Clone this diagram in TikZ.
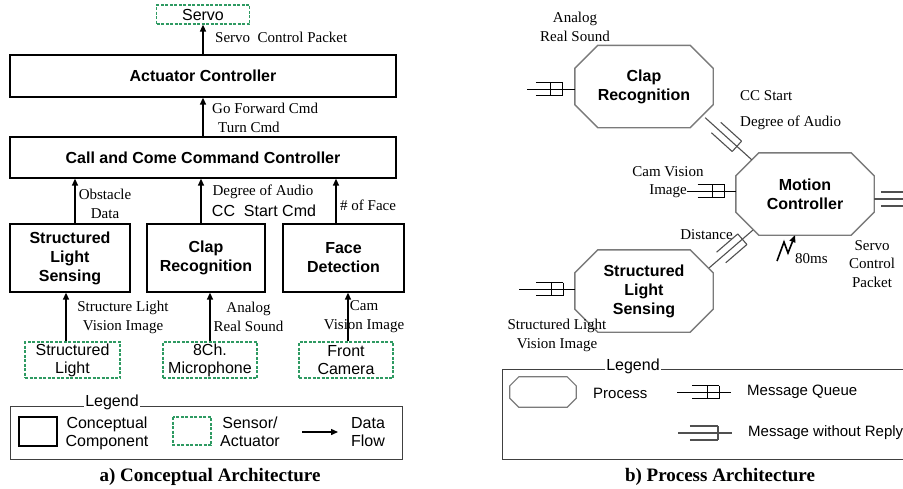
\documentclass[tikz,border=0pt]{standalone}
\usepackage{fontspec}
\setmainfont{Liberation Serif}
\setsansfont{Liberation Sans}
\usetikzlibrary{arrows.meta,calc}
\definecolor{sensor}{HTML}{2E9A62}
\definecolor{procline}{HTML}{7A7A7A}
\definecolor{msgline}{HTML}{505050}
\tikzset{
  comp/.style={draw, line width=1.3pt, font=\sffamily\bfseries\fontsize{16}{19}\selectfont, align=center, inner sep=0pt},
  sens/.style={draw=sensor, dash pattern=on 3pt off 1.5pt, line width=1.2pt, font=\sffamily\fontsize{16}{18}\selectfont, align=center, inner sep=0pt},
  flow/.style={-{Triangle[length=7pt,width=6pt]}, line width=1.4pt},
  labs/.style={font=\fontsize{15}{19}\selectfont, align=center, inner sep=0pt},
  labsf/.style={font=\sffamily\fontsize{16}{18}\selectfont, align=center, inner sep=0pt},
  procbox/.style={minimum width=138pt, minimum height=82pt, font=\sffamily\bfseries\fontsize{16}{19}\selectfont, align=center, inner sep=0pt},
  proc/.style={draw=procline, line width=1.4pt},
  msg/.style={draw=black, line width=0.9pt},
  mwrl/.style={draw=msgline, line width=1.1pt},
  mq/.pic={\draw[msg] (-27,-6.5) -- (0,-6.5) (-27,6.5) -- (0,6.5) (-12,-6.5) -- (-12,6.5) (0,-6.5) -- (0,6.5);},
  mwr/.pic={\draw[mwrl] (-28,-7) -- (0,-7) (-28,7) -- (0,7) (0,-7) -- (0,7);},
  legbox/.style={draw=black!75, line width=1pt},
  legtitle/.style={fill=white, font=\sffamily\fontsize{16}{18}\selectfont, inner sep=1pt},
  caption/.style={font=\bfseries\fontsize{19}{22}\selectfont}
}

\begin{document}
\begin{tikzpicture}[x=1pt,y=-1pt]
  \useasboundingbox (0,0) rectangle (903,488);
  \clip (0,0) rectangle (903,488);

  % a) conceptual architecture
  \node[sens, minimum width=93pt, minimum height=19pt] (servo) at (203,14.5) {Servo};
  \node[comp, minimum width=386pt, minimum height=42pt] (act) at (203,76) {Actuator Controller};
  \node[comp, minimum width=386pt, minimum height=41pt] (call) at (203,157.5) {Call and Come Command Controller};
  \node[comp, minimum width=120pt, minimum height=68pt] (sls) at (70,258) {Structured\\Light\\Sensing};
  \node[comp, minimum width=118pt, minimum height=68pt] (clapc) at (206,258) {Clap\\Recognition};
  \node[comp, minimum width=121pt, minimum height=68pt] (face) at (343.5,258) {Face\\Detection};
  \node[sens, minimum width=95pt, minimum height=36pt] (slight) at (72.5,360) {Structured\\Light};
  \node[sens, minimum width=94pt, minimum height=36pt] (mic) at (210,360) {8Ch.\\Microphone};
  \node[sens, minimum width=94pt, minimum height=36pt] (cam) at (346,360) {Front\\Camera};

  \draw[flow] (act.north) -- (servo.south);
  \draw[flow] (call.north) -- (act.south);
  \draw[flow] ($(sls.north)+(5,0)$) coordinate (s1) -- (s1 |- call.south);
  \draw[flow] ($(clapc.north)+(-5,0)$) coordinate (s2) -- (s2 |- call.south);
  \draw[flow] ($(face.north)+(-7.5,0)$) coordinate (s3) -- (s3 |- call.south);
  \draw[flow] ($(slight.north)+(-6.5,0)$) coordinate (s4) -- (s4 |- sls.south);
  \draw[flow] (mic.north) -- (mic.north |- clapc.south);
  \draw[flow] ($(cam.north)+(2,0)$) coordinate (s5) -- (s5 |- face.south);

  \node[labs, anchor=west] (lpkt) at (215,37) {Servo~ Control Packet};
  \node[labs, anchor=west] (lfwd) at (212,108) {Go Forward Cmd};
  \node[labs, anchor=west] (lturn) at (218,127) {Turn Cmd};
  \node[labs] (lobs) at (105,204) {Obstacle\\Data};
  \node[labs] (laud) at (263,192) {Degree of Audio};
  \node[labsf] (lccs) at (264,210.5) {CC~ Start Cmd};
  \node[labs, anchor=west] (lface) at (340,205) {\# of Face};
  \node[labs] (lslv) at (123,317) {Structure Light\\Vision Image};
  \node[labs] (lana) at (248.5,317) {Analog\\Real Sound};
  \node[labs] (lcam) at (364,317) {Cam\\Vision Image};

  % legend a
  \draw[legbox] (10,406) rectangle (402,459);
  \node[legtitle] (lega) at (112,402) {Legend};
  \draw[line width=1.6pt] (19,417) rectangle (57,446);
  \node[labsf] (lcc) at (107,433) {Conceptual\\Component};
  \draw[draw=sensor, dash pattern=on 3pt off 1.5pt, line width=1.2pt] (173,417) rectangle (211,445);
  \node[labsf] (lsa) at (250,432) {Sensor/\\Actuator};
  \draw[flow] (302,432) -- (338,432);
  \node[labsf] (ldf) at (368,432) {Data\\Flow};
  \node[caption] (capa) at (210,477) {a) Conceptual Architecture};

  % b) process architecture
  \node[procbox] (clapp) at (644,86.5) {Clap\\Recognition};
  \node[procbox] (motion) at (805,194) {Motion\\Controller};
  \node[procbox] (slsp) at (644,291) {Structured\\Light\\Sensing};
  \foreach \p in {clapp,motion,slsp}
    \draw[proc] ([xshift=23pt]\p.north west) -- ([xshift=-23pt]\p.north east)
      -- ([yshift=-23pt]\p.north east) -- ([yshift=23pt]\p.south east)
      -- ([xshift=-23pt]\p.south east) -- ([xshift=23pt]\p.south west)
      -- ([yshift=23pt]\p.south west) -- ([yshift=-23pt]\p.north west) -- cycle;

  \node[labs] (rana) at (575,27) {Analog\\Real Sound};
  \node[labs, anchor=west] (rcc) at (740,96) {CC Start};
  \node[labs, anchor=west] (rdeg) at (740,123) {Degree of Audio};
  \node[labs] (rcamv) at (668,172) {Cam Vision};
  \node[labs] (rcami) at (668,191) {Image};
  \node[labs, anchor=east] (rdist) at (733,235) {Distance};
  \node[labs, anchor=west] (rms) at (795,259) {80ms};
  \node[labs, font=\fontsize{15}{18.5}\selectfont] (rservo) at (872,264) {Servo\\Control\\Packet};
  \node[labs] (rslv) at (557,335) {Structured Light\\Vision Image};

  \coordinate (clapq) at (527,89);
  \coordinate (slsq) at (519,289);
  \coordinate (servoout) at (903,199);
  \coordinate (tick) at (777,261);
  \draw[msg] (clapq) -- (clapq -| clapp.west) pic[pos=0.75]{mq};
  \draw[msg] (slsq) -- (slsq -| slsp.west) pic[pos=0.79]{mq};
  \draw[msg] (rcami.east) -- (rcami.east -| motion.west) pic[pos=0.77]{mq};
  \draw[mwrl] ($(clapp.south east)+(-8,-10)$) -- ($(motion.north west)+(16,7)$) pic[pos=0.68,sloped]{mwr};
  \draw[mwrl] ($(slsp.north east)+(-4,18)$) -- ($(motion.south west)+(17,-5)$) pic[pos=0.76,sloped]{mwr};
  \draw[mwrl] ($(motion.east)+(0,5)$) -- (servoout) pic[pos=1.2]{mwr};
  \draw[flow, line width=1.6pt] (tick) -- (784,242) -- (788,253) -- ($(motion.south)+(-10,0)$);

  % legend b
  \draw[legbox] (502,369) rectangle (910,459);
  \node[legtitle] (legb) at (633,366) {Legend};
  \node[minimum width=66pt, minimum height=30pt] (lproc) at (543,392) {};
  \draw[proc, line width=1.2pt] ([xshift=9pt]lproc.north west) -- ([xshift=-9pt]lproc.north east)
      -- ([yshift=-9pt]lproc.north east) -- ([yshift=9pt]lproc.south east)
      -- ([xshift=-9pt]lproc.south east) -- ([xshift=9pt]lproc.south west)
      -- ([yshift=9pt]lproc.south west) -- ([yshift=-9pt]lproc.north west) -- cycle;
  \node[labsf, font=\sffamily\fontsize{15}{18}\selectfont, anchor=west] (lprc) at (593,393) {Process};
  \coordinate (mqa) at (677,392);
  \coordinate (mwa) at (678,433);
  \draw[msg] (mqa) -- ++(54,0) pic[pos=0.78]{mq};
  \draw[mwrl] (mwa) -- ++(54,0) pic[pos=0.74]{mwr};
  \node[labsf, font=\sffamily\fontsize{15}{18}\selectfont, anchor=west] (lmq) at (747,392) {Message Queue};
  \node[labsf, font=\sffamily\fontsize{15}{18}\selectfont, anchor=west] (lmw) at (748,433) {Message without Reply};
  \node[caption] (capb) at (720,477) {b) Process Architecture};
\end{tikzpicture}
\end{document}
